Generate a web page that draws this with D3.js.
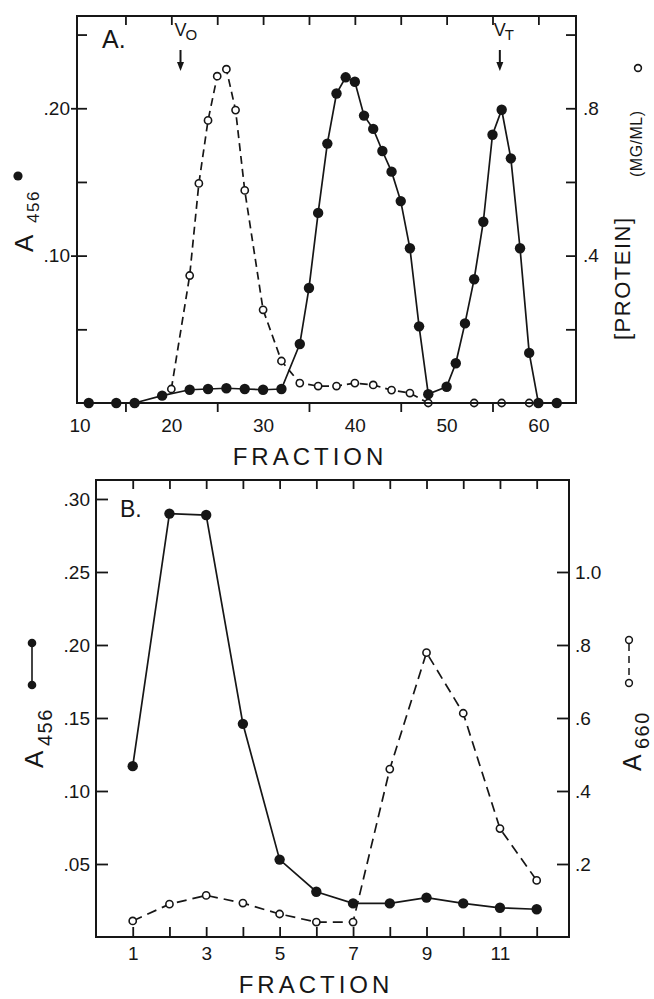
<!DOCTYPE html>
<html>
<head>
<meta charset="utf-8">
<script src="https://d3js.org/d3.v7.min.js"></script>
<style>
    body { margin: 0; background: #fff; }
    svg text { font-family: "Liberation Sans", Arial, sans-serif; fill: #161616; }
</style>
</head>
<body>
<svg id="chart" width="654" height="999"></svg>
<script>
// ---- panel A: A456 (filled) and protein (open) per fraction
const fracA456 = [11, 14, 16, 19, 22, 24, 26, 28, 30, 32, 34, 35, 36, 37, 38, 39, 40, 41, 42, 43, 44, 45,
    46, 47, 48, 50, 51, 52, 53, 54, 55, 56, 57, 58, 59, 60, 62];
const a456A = [0, 0, 0, 0.005, 0.009, 0.0095, 0.010, 0.0095, 0.009, 0.0095, 0.040, 0.078, 0.129, 0.176,
    0.210, 0.221, 0.218, 0.195, 0.186, 0.171, 0.157, 0.137, 0.105, 0.052, 0.006, 0.011, 0.027, 0.054,
    0.084, 0.123, 0.182, 0.199, 0.166, 0.105, 0.034, 0, 0];
const fracProtein = [20, 22, 23, 24, 25, 26, 27, 28, 30, 32, 34, 36, 38, 40, 42, 44, 46, 48];
const proteinA = [0.038, 0.346, 0.596, 0.767, 0.887, 0.906, 0.795, 0.577, 0.253, 0.114, 0.054, 0.046,
    0.046, 0.054, 0.049, 0.035, 0.027, 0];
const fracProteinLoose = [53, 56, 59];
const proteinLoose = [0, 0, 0];
const markersA = [{name: "V", sub: "O", frac: 21}, {name: "V", sub: "T", frac: 55.8}];
const ticksA456 = [0.05, 0.10, 0.15, 0.20, 0.25];
const labelsA456 = [0.10, 0.20];
const ticksProtein = [0.2, 0.4, 0.6, 0.8, 1.0];
const labelsProtein = [0.4, 0.8];
const fracLabelsA = [10, 20, 30, 40, 50, 60];
const fracMinorA = [15, 25, 35, 45, 55];
const fracTopA = [15, 20, 25, 30, 35, 40, 45, 50, 55, 60];

// ---- panel B: A456 (filled) and A660 (open)
const fracB = [1, 2, 3, 4, 5, 6, 7, 8, 9, 10, 11, 12];
const a456B = [0.117, 0.290, 0.289, 0.146, 0.053, 0.031, 0.023, 0.023, 0.027, 0.023, 0.020, 0.019];
const a660B = [0.044, 0.090, 0.114, 0.093, 0.063, 0.041, 0.041, 0.460, 0.779, 0.613, 0.297, 0.155];
const ticksB456 = [0.05, 0.10, 0.15, 0.20, 0.25, 0.30];
const ticksB660 = [0.2, 0.4, 0.6, 0.8, 1.0];
const fracLabelsB = [1, 3, 5, 7, 9, 11];

const ink = "#161616";
const svg = d3.select("#chart");
const zip = (xs, ys) => xs.map((x, i) => ({x: x, y: ys[i]}));
const noLead = f => d => f(d).replace(/^0\./, ".");

function styleAxis(g) {
    g.select(".domain").remove();
    g.selectAll(".tick line").attr("stroke", ink).attr("stroke-width", 1.8);
    g.selectAll(".tick text").attr("fill", ink).style("font-size", "19px")
        .style("font-family", '"Liberation Sans", Arial, sans-serif');
}

function frame(g, x, y) {
    g.append("rect")
        .attr("x", x.range()[0]).attr("y", y.range()[1])
        .attr("width", x.range()[1] - x.range()[0])
        .attr("height", y.range()[0] - y.range()[1])
        .attr("fill", "none").attr("stroke", ink).attr("stroke-width", 2);
}

function series(g, pts, x, y, opts) {
    if (opts.line) {
        g.append("path")
            .datum(pts)
            .attr("fill", "none")
            .attr("stroke", ink)
            .attr("stroke-width", 1.7)
            .attr("stroke-dasharray", opts.dash || null)
            .attr("d", d3.line().x(d => x(d.x)).y(d => y(d.y)));
    }
    g.append("g").selectAll("circle")
        .data(pts)
        .join("circle")
        .attr("cx", d => x(d.x))
        .attr("cy", d => y(d.y))
        .attr("r", opts.r)
        .attr("fill", opts.filled ? ink : "#fff")
        .attr("stroke", ink)
        .attr("stroke-width", opts.filled ? 0 : 1.6);
}

function vtext(g, x, y, str, size, spacing) {
    return g.append("text")
        .attr("transform", `translate(${x},${y}) rotate(-90)`)
        .style("font-size", size + "px")
        .style("letter-spacing", (spacing || 0) + "px")
        .text(str);
}

// ================= panel A =================
const gA = svg.append("g");
const xA = d3.scaleLinear().domain([9.72, 64.1]).range([77, 576]);
const yA = d3.scaleLinear().domain([0, 0.2626]).range([403, 16]);
const yA2 = d3.scaleLinear().domain([0, 1.0504]).range([403, 16]);

const f2 = d3.format(".2f"), f1 = d3.format(".1f");

gA.append("g").attr("transform", "translate(77,0)")
    .call(d3.axisLeft(yA).tickValues(ticksA456).tickSize(-10).tickPadding(7)
        .tickFormat(d => labelsA456.includes(d) ? noLead(f2)(d) : ""))
    .call(styleAxis)
    .call(g => g.selectAll(".tick").filter(d => labelsA456.includes(d)).select("line").attr("x1", -6));

gA.append("g").attr("transform", "translate(576,0)")
    .call(d3.axisRight(yA2).tickValues(ticksProtein).tickSize(-10).tickPadding(7)
        .tickFormat(d => labelsProtein.includes(d) ? noLead(f1)(d) : ""))
    .call(styleAxis);

gA.append("g").attr("transform", "translate(0,403)")
    .call(d3.axisBottom(xA).tickValues(fracMinorA).tickSize(9).tickFormat(""))
    .call(styleAxis);
gA.append("g").attr("transform", "translate(0,403)")
    .call(d3.axisBottom(xA).tickValues(fracLabelsA).tickSize(0).tickPadding(16))
    .call(styleAxis);
gA.append("g").attr("transform", "translate(0,16)")
    .call(d3.axisTop(xA).tickValues(fracTopA).tickSize(-9).tickFormat(""))
    .call(styleAxis);

series(gA, zip(fracProtein, proteinA), xA, yA2, {line: true, dash: "8,5", r: 3.6, filled: false});
series(gA, zip(fracProteinLoose, proteinLoose), xA, yA2, {line: false, r: 3.6, filled: false});
series(gA, zip(fracA456, a456A), xA, yA, {line: true, r: 5.2, filled: true});
frame(gA, xA, yA);

// void / total volume markers
markersA.forEach(m => {
    const mx = xA(m.frac);
    const t = gA.append("text").attr("x", mx - 6).attr("y", 36).style("font-size", "18px");
    t.append("tspan").text(m.name);
    t.append("tspan").attr("dy", 4).attr("dx", -1).style("font-size", "15px").text(m.sub);
    gA.append("line").attr("x1", mx).attr("x2", mx).attr("y1", 50).attr("y2", 64)
        .attr("stroke", ink).attr("stroke-width", 2);
    gA.append("path").attr("d", `M${mx - 3.5},${62} L${mx + 3.5},${62} L${mx},${71} Z`).attr("fill", ink);
});

gA.append("text").attr("x", 102).attr("y", 48).style("font-size", "25px").text("A.");

vtext(gA, 33, 252, "A", 26);
vtext(gA, 39, 223, "456", 17, 1.5);
gA.append("circle").attr("cx", 18).attr("cy", 176).attr("r", 4.6).attr("fill", ink);

vtext(gA, 630, 340, "[PROTEIN]", 22, 1.5);
vtext(gA, 642, 177, "(MG/ML)", 16, 0.5);
gA.append("circle").attr("cx", 638).attr("cy", 68).attr("r", 3.4)
    .attr("fill", "none").attr("stroke", ink).attr("stroke-width", 1.6);

gA.append("text").attr("x", 310).attr("y", 465).attr("text-anchor", "middle")
    .style("font-size", "24px").style("letter-spacing", "4px").text("FRACTION");

// ================= panel B =================
const gB = svg.append("g");
const xB = d3.scaleLinear().domain([0, 12.88]).range([96, 569]);
const yB = d3.scaleLinear().domain([0, 0.313]).range([937, 480]);
const yB2 = d3.scaleLinear().domain([0, 1.252]).range([937, 480]);

gB.append("g").attr("transform", "translate(96,0)")
    .call(d3.axisLeft(yB).tickValues(ticksB456).tickSize(-12).tickPadding(6).tickFormat(noLead(f2)))
    .call(styleAxis);
gB.append("g").attr("transform", "translate(569,0)")
    .call(d3.axisRight(yB2).tickValues(ticksB660).tickSize(-12).tickPadding(6).tickFormat(noLead(f1)))
    .call(styleAxis);
gB.append("g").attr("transform", "translate(0,937)")
    .call(d3.axisBottom(xB).tickValues(fracB).tickSize(-10).tickPadding(10)
        .tickFormat(d => fracLabelsB.includes(d) ? d : ""))
    .call(styleAxis);
gB.append("g").attr("transform", "translate(0,480)")
    .call(d3.axisTop(xB).tickValues(fracB).tickSize(-9).tickFormat(""))
    .call(styleAxis);

series(gB, zip(fracB, a660B), xB, yB2, {line: true, dash: "10,6", r: 3.6, filled: false});
series(gB, zip(fracB, a456B), xB, yB, {line: true, r: 5.2, filled: true});
frame(gB, xB, yB);

gB.append("text").attr("x", 120).attr("y", 517).style("font-size", "23px").text("B.");

// left key + label
gB.append("line").attr("x1", 32).attr("x2", 32).attr("y1", 643).attr("y2", 685)
    .attr("stroke", ink).attr("stroke-width", 1.6);
gB.selectAll("circle.keyL").data([643, 685]).join("circle").attr("class", "keyL")
    .attr("cx", 32).attr("cy", d => d).attr("r", 4.3).attr("fill", ink);
vtext(gB, 43, 768, "A", 26);
vtext(gB, 52, 746, "456", 20, 1.5);

// right key + label
gB.append("line").attr("x1", 629).attr("x2", 629).attr("y1", 644).attr("y2", 679)
    .attr("stroke", ink).attr("stroke-width", 1.5).attr("stroke-dasharray", "7,5");
gB.selectAll("circle.keyR").data([640, 683]).join("circle").attr("class", "keyR")
    .attr("cx", 629).attr("cy", d => d).attr("r", 3.4)
    .attr("fill", "#fff").attr("stroke", ink).attr("stroke-width", 1.5);
vtext(gB, 641, 771, "A", 25);
vtext(gB, 649, 749, "660", 20, 1.5);

gB.append("text").attr("x", 316).attr("y", 993).attr("text-anchor", "middle")
    .style("font-size", "24px").style("letter-spacing", "4px").text("FRACTION");
</script>
</body>
</html>
